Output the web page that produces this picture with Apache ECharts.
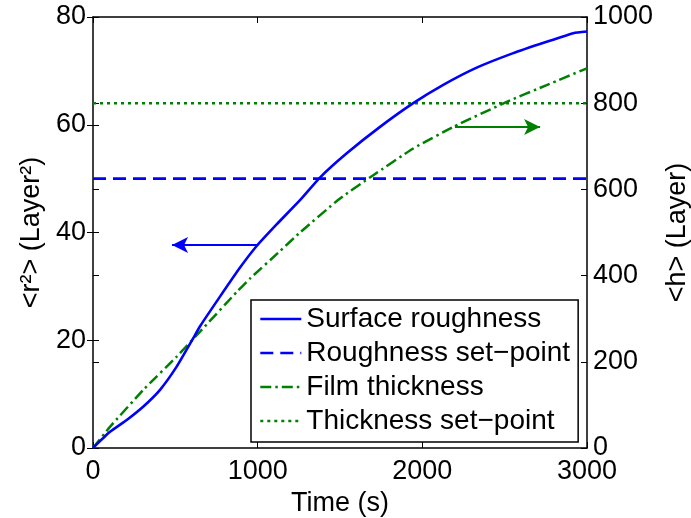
<!DOCTYPE html>
<html>
<head>
<meta charset="utf-8">
<script src="https://cdn.jsdelivr.net/npm/echarts@6/dist/echarts.min.js"></script>
<style>html,body{margin:0;padding:0;background:#fff;}#c{width:691px;height:518px;}</style>
</head>
<body>
<div id="c"></div>
<script>
// ---- data ----
var roughTime = [0, 103, 205, 306, 407, 508, 609, 650, 771, 893, 994, 1115, 1257, 1378, 1541, 1743, 1945, 2127, 2330, 2552, 2755, 2917, 3000];
var roughVals = [0, 3.0, 5.2, 7.7, 10.8, 15.1, 20.4, 22.6, 28.1, 33.5, 37.5, 41.5, 46.0, 50.2, 54.7, 59.6, 64.0, 67.4, 70.6, 73.3, 75.4, 77.0, 77.3];
var thickTime = [0, 103, 306, 508, 650, 873, 953, 1136, 1257, 1500, 1702, 1945, 2188, 2512, 2755, 3000];
var thickVals = [0, 49, 135, 212, 270, 362, 393, 457, 500, 579, 633, 695, 745, 803, 842, 881];
var roughSetpoint = 50;
var thickSetpoint = 800;
var seriesNames = ['Surface roughness', 'Roughness set\u2212point', 'Film thickness', 'Thickness set\u2212point'];
var xTicks = [0, 1000, 2000, 3000];
var leftTicks = [0, 20, 40, 60, 80];
var rightTicks = [0, 200, 400, 600, 800, 1000];
var roughArrow = [[1000, 37.7], [480, 37.7]];
var thickArrow = [[2198, 745], [2715, 745]];

function pairs(xs, ys) { return xs.map(function (x, i) { return [x, ys[i]]; }); }

var FONT = 'Liberation Sans';
var FS = 27;
var BLUE = '#0000ff', GREEN = '#008000';

var chart = echarts.init(document.getElementById('c'));
var tickIn = { show: true, inside: true, length: 6, lineStyle: { color: '#000', width: 1 } };
var axLine = { show: true, onZero: false, lineStyle: { color: '#000', width: 1.5 } };
var plain = function (v) { return String(v); };

chart.setOption({
  animation: false,
  backgroundColor: '#fff',
  textStyle: { fontFamily: FONT },
  grid: { left: 93, right: 104, top: 17, bottom: 70, containLabel: false, outerBoundsMode: 'none' },
  xAxis: [
    { type: 'value', min: xTicks[0], max: xTicks[xTicks.length - 1], interval: 1000, position: 'bottom',
      axisLine: axLine, axisTick: tickIn, splitLine: { show: false },
      axisLabel: { fontSize: FS, color: '#000', fontFamily: FONT, margin: 10, formatter: plain },
      name: 'Time (s)', nameLocation: 'middle', nameGap: 29,
      nameTextStyle: { fontSize: FS, color: '#000', fontFamily: FONT } },
    { type: 'value', min: 0, max: 3000, interval: 1000, position: 'top',
      axisLine: axLine, axisTick: tickIn, axisLabel: { show: false }, splitLine: { show: false } }
  ],
  yAxis: [
    { type: 'value', min: leftTicks[0], max: leftTicks[leftTicks.length - 1], interval: 20, position: 'left',
      axisLine: axLine, axisTick: tickIn, splitLine: { show: false },
      axisLabel: { fontSize: FS, color: '#000', fontFamily: FONT, margin: 7, formatter: plain },
      name: '<r\u00b2> (Layer\u00b2)', nameLocation: 'middle', nameGap: 44, nameRotate: 90,
      nameTextStyle: { fontSize: FS, color: '#000', fontFamily: FONT } },
    { type: 'value', min: rightTicks[0], max: rightTicks[rightTicks.length - 1], interval: 200, position: 'right',
      axisLine: axLine, axisTick: tickIn, splitLine: { show: false },
      axisLabel: { fontSize: FS, color: '#000', fontFamily: FONT, margin: 6, formatter: plain },
      name: '<h> (Layer)', nameLocation: 'middle', nameGap: 76, nameRotate: 90,
      nameTextStyle: { fontSize: FS, color: '#000', fontFamily: FONT } },
    { type: 'value', min: 0, max: 80, interval: 20, position: 'right',
      axisLine: { show: false }, axisTick: tickIn, axisLabel: { show: false }, splitLine: { show: false } },
    { type: 'value', min: 0, max: 1000, interval: 200, position: 'left',
      axisLine: { show: false }, axisTick: tickIn, axisLabel: { show: false }, splitLine: { show: false } }
  ],
  legend: {
    orient: 'vertical', left: 251, top: 300,
    backgroundColor: '#fff', borderColor: '#000', borderWidth: 1.5, borderRadius: 0,
    padding: [5, 8, 7, 8], itemGap: 6, itemWidth: 41, itemHeight: 14,
    itemStyle: { opacity: 0 },
    lineStyle: { width: 2.6 },
    textStyle: { fontSize: 28, color: '#000', fontFamily: FONT },
    data: seriesNames
  },
  series: [
    { name: seriesNames[0], type: 'line', xAxisIndex: 0, yAxisIndex: 0, showSymbol: false, symbol: 'none',
      smooth: 0.15, data: pairs(roughTime, roughVals),
      lineStyle: { color: BLUE, width: 2.6 }, itemStyle: { color: BLUE }, z: 5,
      markLine: { silent: true, symbol: ['none', 'arrow'], symbolSize: [12, 16],
        label: { show: false }, lineStyle: { color: BLUE, width: 2.2, type: 'solid' },
        data: [[{ coord: roughArrow[0] }, { coord: roughArrow[1] }]] } },
    { name: seriesNames[1], type: 'line', xAxisIndex: 0, yAxisIndex: 0, showSymbol: false, symbol: 'none',
      data: [[0, roughSetpoint], [3000, roughSetpoint]],
      lineStyle: { color: BLUE, width: 2.6, type: [13, 7] }, itemStyle: { color: BLUE }, z: 3 },
    { name: seriesNames[2], type: 'line', xAxisIndex: 0, yAxisIndex: 1, showSymbol: false, symbol: 'none',
      smooth: 0.15, data: pairs(thickTime, thickVals),
      lineStyle: { color: GREEN, width: 2.5, type: [11, 4, 2.5, 4] }, itemStyle: { color: GREEN }, z: 4,
      markLine: { silent: true, symbol: ['none', 'arrow'], symbolSize: [12, 16],
        label: { show: false }, lineStyle: { color: GREEN, width: 2.2, type: 'solid' },
        data: [[{ coord: thickArrow[0] }, { coord: thickArrow[1] }]] } },
    { name: seriesNames[3], type: 'line', xAxisIndex: 0, yAxisIndex: 1, showSymbol: false, symbol: 'none',
      data: [[0, thickSetpoint], [3000, thickSetpoint]],
      lineStyle: { color: GREEN, width: 2.5, type: [3, 4] }, itemStyle: { color: GREEN }, z: 3 }
  ]
});
</script>
</body>
</html>
